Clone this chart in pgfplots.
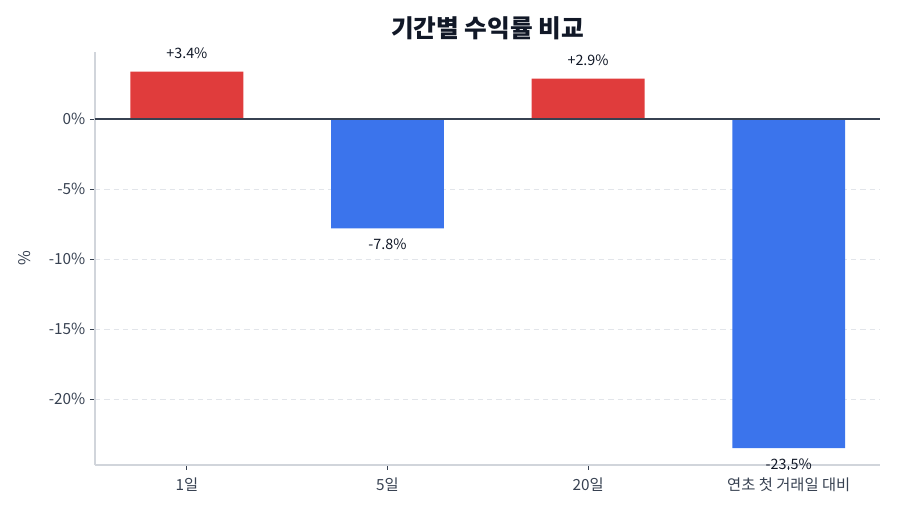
\documentclass[border=0pt]{standalone}
\usepackage{pgfplots}
\pgfplotsset{compat=1.18}
\usepackage{fontspec}
\setmainfont{Noto Sans CJK KR}
\definecolor{barred}{HTML}{E03C3C}
\definecolor{barblue}{HTML}{3B74EC}
\definecolor{zeroline}{HTML}{374151}
\definecolor{axisgray}{HTML}{D1D5DB}
\definecolor{gridgray}{HTML}{E2E5EA}
\definecolor{txt}{HTML}{374151}
\definecolor{ttl}{HTML}{111827}
\begin{document}
\begin{tikzpicture}
\useasboundingbox (-71.25pt,-36.75pt) rectangle (603.75pt,348.75pt);
\begin{axis}[
  at={(0,0)}, anchor=south west,
  scale only axis,
  width=588.75pt, height=309.75pt,
  xmin=-0.458, xmax=3.455,
  ymin=-24.7, ymax=4.8,
  axis x line*=bottom, axis y line*=left,
  axis line style={color=axisgray, line width=0.9pt},
  xtick={0,1,2,3},
  xticklabels={1일,5일,20일,연초 첫 거래일 대비},
  ytick={-20,-15,-10,-5,0},
  yticklabels={-20\%,-15\%,-10\%,-5\%,0\%},
  tick align=outside,
  major tick length=3.75pt,
  tick style={color=zeroline, line width=0.8pt},
  ymajorgrids,
  grid style={dash pattern=on 4pt off 3pt, color=gridgray, line width=0.7pt},
  ticklabel style={font=\fontsize{11.5pt}{13pt}\selectfont, color=txt},
  xticklabel style={yshift=-2.5pt},
  ylabel={\%},
  ylabel style={at={(axis description cs:-0.089,0.5)}, anchor=center, font=\fontsize{12pt}{14pt}\selectfont, color=txt},
  every axis title shift=0pt,
  title={\bfseries 기간별 수익률 비교},
  title style={at={(axis description cs:0.5,1.058)}, anchor=center, font=\fontsize{18.5pt}{21pt}\selectfont, color=ttl},
  ybar, bar width=0.563, bar shift=0pt,
  point meta=explicit symbolic,
  nodes near coords,
  nodes near coords style={font=\fontsize{10.75pt}{12pt}\selectfont, color=ttl, anchor=center},
  clip=false,
]
\addplot[fill=barred, draw=none, every node near coord/.append style={yshift=13.5pt}]
  coordinates {(0,3.4) [+3.4\%] (2,2.9) [+2.9\%]};
\addplot[fill=barblue, draw=none, every node near coord/.append style={yshift=-12pt}]
  coordinates {(1,-7.8) [-7.8\%] (3,-23.5) [-23.5\%]};
\draw[color=zeroline, line width=1.1pt] ({rel axis cs:0,0}|-{axis cs:0,0}) -- ({rel axis cs:1,0}|-{axis cs:0,0});
\end{axis}
\end{tikzpicture}
\end{document}
